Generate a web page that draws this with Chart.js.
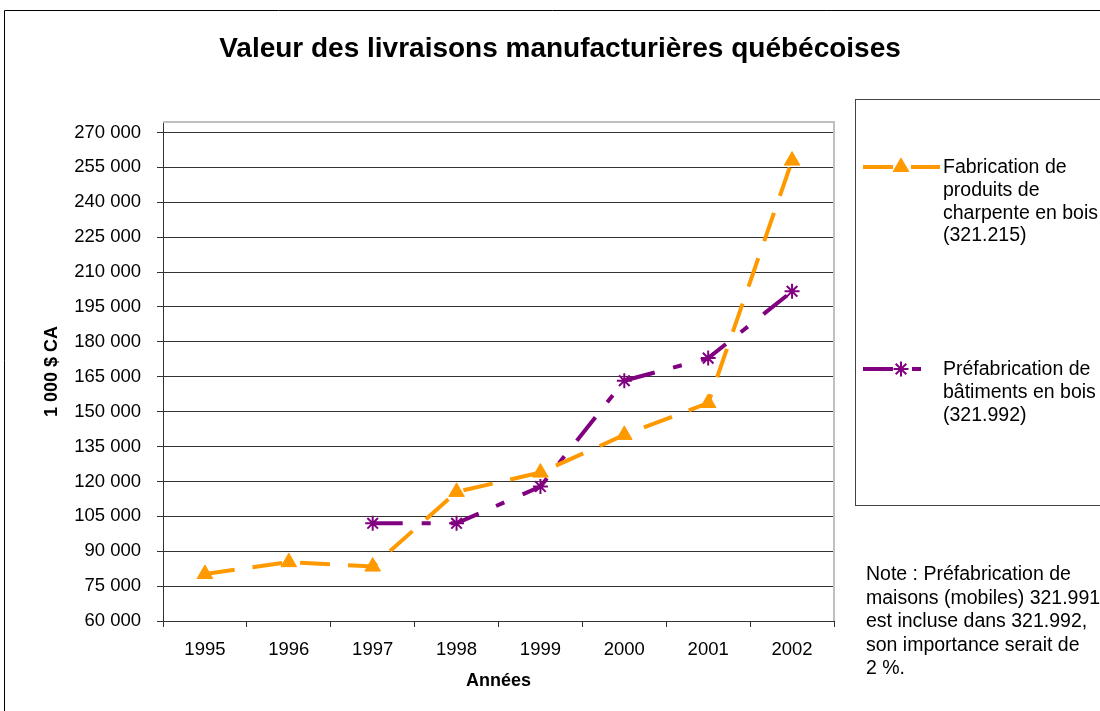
<!DOCTYPE html>
<html lang="fr">
<head>
    <meta charset="UTF-8">
    <title>Valeur des livraisons manufacturières québécoises</title>
    <script src="https://cdn.jsdelivr.net/npm/chart.js@4/dist/chart.umd.min.js"></script>
    <style>
        html, body { margin: 0; padding: 0; background: #fff; }
        #wrap { width: 1100px; height: 711px; position: relative; }
    </style>
</head>
<body>
<div id="wrap">
    <canvas id="chart" width="1100" height="711"></canvas>
</div>
<script>
// data
const years = ['1995', '1996', '1997', '1998', '1999', '2000', '2001', '2002'];
const charpente = [80200, 85300, 83400, 115500, 123800, 140000, 153700, 257900];
const prefab = [null, null, 102000, 102000, 117800, 163300, 173000, 201700];
const yTickValues = [60000, 75000, 90000, 105000, 120000, 135000, 150000, 165000,
                     180000, 195000, 210000, 225000, 240000, 255000, 270000];

const chartTitle = 'Valeur des livraisons manufacturières québécoises';
const legendCharpente = ['Fabrication de', 'produits de', 'charpente en bois', '(321.215)'];
const legendPrefab = ['Préfabrication de', 'bâtiments en bois', '(321.992)'];
const noteLines = ['Note : Préfabrication de', 'maisons (mobiles) 321.991',
                   'est incluse dans 321.992,', 'son importance serait de', '2 %.'];

const ORANGE = '#FF9900';
const PURPLE = '#800080';
const FONT = '"Liberation Sans", Arial, sans-serif';

const orangeDash = [30, 18];
const purpleDash = [30, 19, 9, 20];

function spaced(v) {
    return String(v).replace(/\B(?=(\d{3})+(?!\d))/g, ' ');
}

// title, frame, legend box and note
const decor = {
    id: 'decor',
    afterDraw(chart) {
        const ctx = chart.ctx;
        const a = chart.chartArea;
        ctx.save();

        // outer border
        ctx.strokeStyle = '#000';
        ctx.lineWidth = 1;
        ctx.beginPath();
        ctx.moveTo(4.5, 711);
        ctx.lineTo(4.5, 10.5);
        ctx.lineTo(1100, 10.5);
        ctx.stroke();

        // plot frame top / right
        ctx.strokeStyle = '#c0c0c0';
        ctx.lineWidth = 2;
        ctx.beginPath();
        ctx.moveTo(a.left, a.top);
        ctx.lineTo(a.right, a.top);
        ctx.lineTo(a.right, a.bottom);
        ctx.stroke();

        // title
        ctx.fillStyle = '#000';
        ctx.font = 'bold 28px ' + FONT;
        ctx.textAlign = 'center';
        ctx.textBaseline = 'middle';
        ctx.fillText(chartTitle, 560, 49);

        // legend box
        ctx.strokeStyle = '#444';
        ctx.lineWidth = 1;
        ctx.strokeRect(855.5, 99.5, 300, 406);

        const entries = [
            { color: ORANGE, dash: orangeDash, width: 4, style: 'triangle', radius: 9, lines: legendCharpente, y: 167, end: 940 },
            { color: PURPLE, dash: purpleDash, width: 4, style: 'star', radius: 7.5, lines: legendPrefab, y: 369, end: 924 }
        ];
        entries.forEach(e => {
            ctx.strokeStyle = e.color;
            ctx.fillStyle = e.color;
            ctx.lineWidth = e.width;
            ctx.setLineDash(e.dash);
            ctx.beginPath();
            ctx.moveTo(863, e.y);
            ctx.lineTo(e.end, e.y);
            ctx.stroke();
            ctx.setLineDash([]);
            ctx.lineWidth = e.style === 'star' ? 2 : 1;
            Chart.helpers.drawPoint(ctx, { pointStyle: e.style, radius: e.radius, rotation: 0, borderWidth: ctx.lineWidth }, 901, e.y);

            ctx.fillStyle = '#000';
            ctx.font = '19.5px ' + FONT;
            ctx.textAlign = 'left';
            ctx.textBaseline = 'middle';
            e.lines.forEach((t, i) => ctx.fillText(t, 943, e.y + 1 + i * 22.7));
        });

        // note
        ctx.fillStyle = '#000';
        ctx.font = '19.5px ' + FONT;
        noteLines.forEach((t, i) => ctx.fillText(t, 866, 575 + i * 23.4));

        ctx.restore();
    }
};

new Chart(document.getElementById('chart'), {
    type: 'line',
    data: {
        labels: years,
        datasets: [
            {
                label: legendCharpente.join(' '),
                data: charpente,
                borderColor: ORANGE,
                backgroundColor: ORANGE,
                borderWidth: 4,
                borderDash: orangeDash,
                pointStyle: 'triangle',
                pointRadius: 9,
                pointBorderWidth: 1,
                pointBackgroundColor: ORANGE,
                pointBorderColor: ORANGE,
                tension: 0
            },
            {
                label: legendPrefab.join(' '),
                data: prefab,
                borderColor: PURPLE,
                backgroundColor: PURPLE,
                borderWidth: 4,
                borderDash: purpleDash,
                pointStyle: 'star',
                pointRadius: 7.5,
                pointBorderWidth: 2,
                pointBorderColor: PURPLE,
                spanGaps: false,
                tension: 0
            }
        ]
    },
    options: {
        responsive: false,
        animation: false,
        layout: { padding: { left: 0, top: 122, right: 266, bottom: 0 } },
        plugins: {
            legend: { display: false },
            title: { display: false },
            tooltip: { enabled: false }
        },
        scales: {
            x: {
                offset: true,
                grid: { offset: true, drawOnChartArea: false, drawTicks: true, tickLength: 6, color: '#333' },
                border: { color: '#333', width: 1 },
                ticks: { color: '#000', font: { family: FONT, size: 18.5 }, padding: 12, maxRotation: 0 },
                title: { display: true, text: 'Années', color: '#000', font: { family: FONT, size: 18, weight: 'bold' }, padding: { top: 0, bottom: 19 } },
                afterFit(scale) { scale.height = 90; }
            },
            y: {
                min: 60000,
                max: 274500,
                afterBuildTicks(scale) { scale.ticks = yTickValues.map(v => ({ value: v })); },
                grid: { color: '#333', tickLength: 6 },
                border: { color: '#333', width: 1 },
                ticks: { color: '#000', font: { family: FONT, size: 18.5 }, padding: 16, callback: v => spaced(v) },
                title: { display: true, text: '1 000 $ CA', color: '#000', font: { family: FONT, size: 18, weight: 'bold' }, padding: { top: 41, bottom: 0 } },
                afterFit(scale) { scale.width = 163; }
            }
        }
    },
    plugins: [decor]
});
</script>
</body>
</html>
